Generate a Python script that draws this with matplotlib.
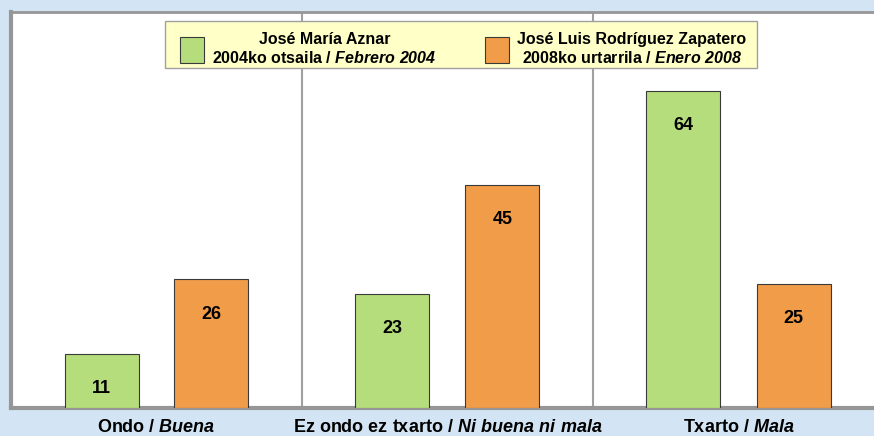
import matplotlib.pyplot as plt
from matplotlib.patches import Rectangle
import numpy as np

plt.rcParams['font.family'] = 'Liberation Sans'
plt.rcParams['mathtext.fontset'] = 'custom'
# italic parts (digits included) in bold italic
plt.rcParams['mathtext.it'] = 'Liberation Sans:italic:bold'
plt.rcParams['mathtext.rm'] = 'Liberation Sans:italic:bold'

# categories and values (%)
categories = [r"Ondo / $\mathit{Buena}$",
              r"Ez ondo ez txarto / $\mathit{Ni\ buena\ ni\ mala}$",
              r"Txarto / $\mathit{Mala}$"]
aznar = [11, 23, 64]
zapatero = [26, 45, 25]
series_labels = ["José María Aznar\n2004ko otsaila / $\\mathit{Febrero\\ 2004}$",
                 "José Luis Rodríguez Zapatero\n2008ko urtarrila / $\\mathit{Enero\\ 2008}$"]

green = '#B6DD7C'
orange = '#F09C48'
bg = '#D3E5F4'

fig = plt.figure(figsize=(8.74, 4.36), dpi=100, facecolor=bg)
ax = fig.add_axes([11/874, 1 - 408/436, 873/874, 396/436])
ax.set_facecolor('white')

x = np.arange(len(categories))
w = 74/291
off = 55/291
b1 = ax.bar(x - off, aznar, w, color=green, edgecolor='#3a3a3a', linewidth=0.8, zorder=3)
b2 = ax.bar(x + off, zapatero, w, color=orange, edgecolor='#3a3a3a', linewidth=0.8, zorder=3)

# value labels inside the bars, just below the top
for bars, vals in ((b1, aznar), (b2, zapatero)):
    for rect, v in zip(bars, vals):
        ax.annotate(str(v), (rect.get_x() + rect.get_width()/2, v),
                    xytext=(0, -25), textcoords='offset points',
                    ha='center', va='center', fontsize=13, fontweight='bold', zorder=4)

ax.set_xlim(-0.5, 2.5)
ax.set_ylim(0, 80)

# separators between the categories
for sep in (0.5, 1.5):
    ax.axvline(sep, color='#a0a0a0', linewidth=1.5, zorder=1)

ax.spines['right'].set_visible(False)
ax.spines['left'].set_color('#969696')
ax.spines['left'].set_linewidth(3)
ax.spines['bottom'].set_color('#969696')
ax.spines['bottom'].set_linewidth(3)
ax.spines['top'].set_color('#969696')
ax.spines['top'].set_linewidth(2)

ax.set_yticks([])
ax.set_xticks(x)
ax.set_xticklabels(categories, fontsize=13, fontweight='bold')
ax.tick_params(axis='x', length=0, pad=8)

# legend box
fig.patches.append(Rectangle((165/874, 1 - 68/436), 592/874, 47/436, transform=fig.transFigure,
                             facecolor='#FFFFC8', edgecolor='#a0a0a0', linewidth=1, zorder=5))
leg = fig.legend([b1, b2], series_labels, loc='center', bbox_to_anchor=(463/874, 1 - 49/436),
                 ncol=2, prop={'weight': 'bold', 'size': 11.5},
                 frameon=False, handlelength=1.5, handleheight=2.1,
                 handletextpad=0.55, columnspacing=3.0, borderpad=0)
leg.set_zorder(6)
for t in leg.get_texts():
    t.set_ha('center')
    t.set_multialignment('center')

fig.savefig('out.png', dpi=100, facecolor=bg)
